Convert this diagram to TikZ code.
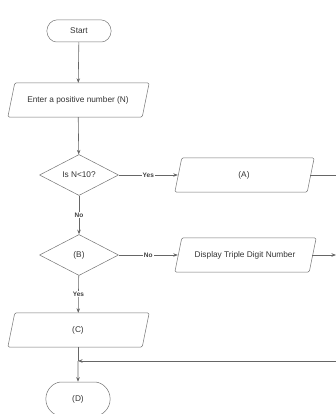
\documentclass[tikz,border=0pt]{standalone}
\usepackage{fontspec}
\setmainfont{Liberation Sans}
\usetikzlibrary{shapes.geometric,shapes.misc,arrows.meta}

\begin{document}
\begin{tikzpicture}[x=1pt,y=-1pt,
    line/.style={draw=black!60, line width=0.6pt},
    arrow/.style={line, -{Stealth[length=4.5pt,width=3.5pt]}},
    outline/.style={draw=black!55, line width=0.5pt, rounded corners=1.5pt},
    terminal/.style={rounded rectangle, outline,
        minimum width=71pt, minimum height=22pt, font=\fontsize{8.3}{9}\selectfont, text=black!80},
    io/.style={rectangle, minimum width=134pt, minimum height=34pt, inner sep=0pt,
        font=\fontsize{8.3}{9}\selectfont, text=black!80},
    decision/.style={diamond, draw=black!55, line width=0.5pt, aspect=1.9,
        minimum width=79pt, minimum height=41pt, inner sep=0pt,
        font=\fontsize{8.3}{9}\selectfont, text=black!80},
    answer/.style={fill=white, inner sep=1pt, font=\bfseries\fontsize{6.5}{7}\selectfont, text=black!75}]

    \useasboundingbox (0,0) rectangle (336,414);

    % shapes left column
    \node[terminal] (start) at (79,31) {Start};
    \node[io] (enter) at (78,100) {Enter a positive number (N)};
    \node[decision] (isless) at (79,175) {Is N<10?};
    \node[decision] (bnode) at (79,255) {(B)};
    \node[io] (cnode) at (78,330) {(C)};
    \node[terminal, minimum height=34pt] (dnode) at (78,399) {(D)};

    % shapes right column
    \node[io, minimum width=132pt] (anode) at (244,175) {(A)};
    \node[io, minimum width=134pt] (display) at (245,255) {Display Triple Digit Number};

    % slanted outlines of the input/output boxes
    \foreach \n in {enter,cnode,anode,display}
        \draw[outline] ([xshift=-3pt]\n.south west) -- ([xshift=4pt]\n.north west)
            -- ([xshift=4pt]\n.north east) -- ([xshift=-3pt]\n.south east) -- cycle;

    % points off the page
    \coordinate (merge) at (78,361);
    \coordinate (exit) at (336,255);
    \coordinate (turn1) at (350,175);
    \coordinate (turn2) at (350,361);

    % connectors
    \draw[arrow] (start) -- (enter);
    \draw[arrow] (enter) -- (isless);
    \draw[arrow] (isless) -- node[answer] {Yes} (anode);
    \draw[arrow] (isless) -- node[answer] {No} (bnode);
    \draw[arrow] (bnode) -- node[answer] {No} (display);
    \draw[arrow] (bnode) -- node[answer] {Yes} (cnode);
    \draw[arrow] (display) -- (exit);
    \draw[line] (cnode) -- (merge);
    \draw[arrow] (merge) -- (dnode);
    \draw[arrow] (anode.east) -- (turn1) -- (turn2) -- (merge);
\end{tikzpicture}
\end{document}
